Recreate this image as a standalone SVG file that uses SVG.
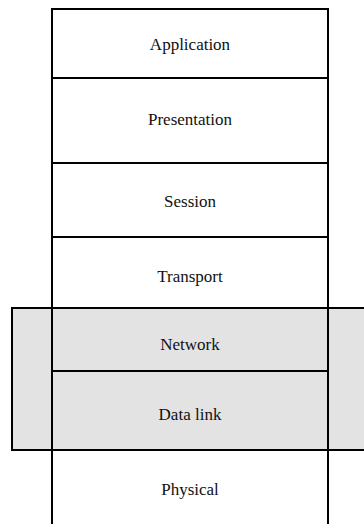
<svg xmlns="http://www.w3.org/2000/svg" width="364" height="524" viewBox="0 0 364 524">
<style>
.box{fill:none;stroke:#000;stroke-width:2}
.band{fill:#e3e3e3;stroke:#000;stroke-width:2}
.lbl{font-family:"Liberation Serif","Times New Roman",serif;font-size:17px;fill:#111;text-anchor:middle}
</style>
<rect width="364" height="524" fill="#fff"/>
<g id="subnet-band"><rect class="band" x="12" y="308" width="360" height="142"/></g>
<g id="application"><rect class="box" x="52" y="9" width="276" height="69"/><text class="lbl" x="190" y="50">Application</text></g>
<g id="presentation"><rect class="box" x="52" y="78" width="276" height="85"/><text class="lbl" x="190" y="125">Presentation</text></g>
<g id="session"><rect class="box" x="52" y="163" width="276" height="74"/><text class="lbl" x="190" y="206.5">Session</text></g>
<g id="transport"><rect class="box" x="52" y="237" width="276" height="71"/><text class="lbl" x="190" y="281.5">Transport</text></g>
<g id="network"><rect class="box" x="52" y="308" width="276" height="63"/><text class="lbl" x="190" y="350">Network</text></g>
<g id="datalink"><rect class="box" x="52" y="371" width="276" height="79"/><text class="lbl" x="190" y="420">Data link</text></g>
<g id="physical"><rect class="box" x="52" y="450" width="276" height="80"/><text class="lbl" x="190" y="495">Physical</text></g>
<g id="connectors"></g>
</svg>
